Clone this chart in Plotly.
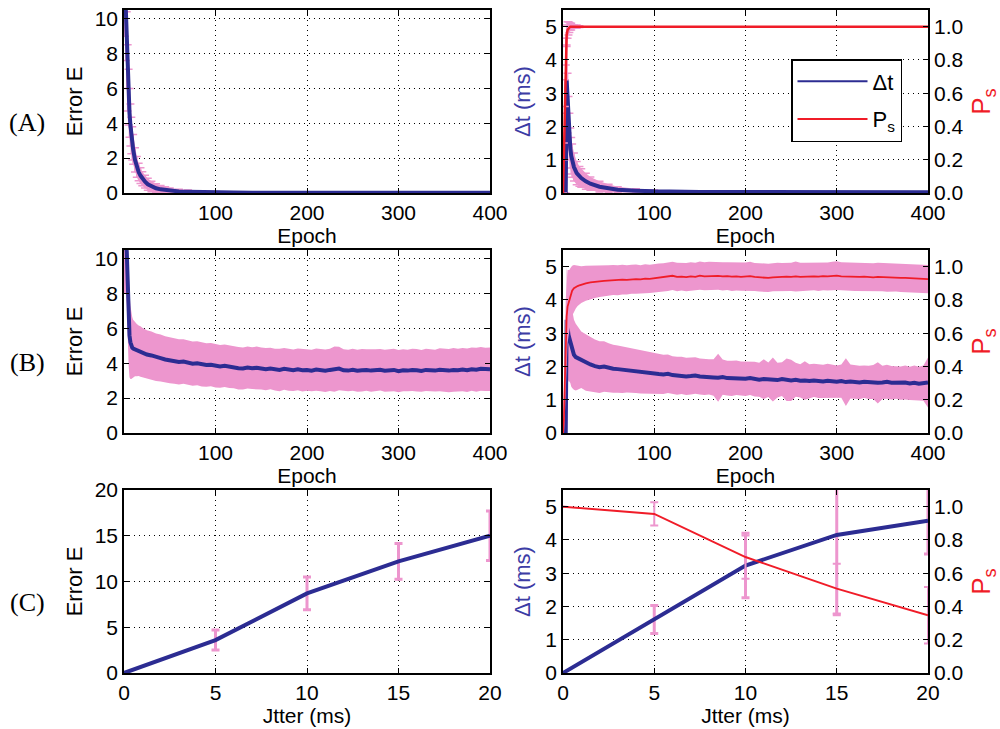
import plotly.graph_objects as go

# ---------------- data ----------------
# Row (A): noise-free training, per-epoch mean and std
A_epoch = [1, 2, 3, 4, 5, 6, 7, 8, 9, 10, 12, 14, 16, 18, 20, 23, 26, 30, 35, 40,
           45, 50, 60, 70, 80, 90, 100, 120, 140, 160, 200, 250, 300, 350, 400]
A_err_E = [12.0, 10.2, 8.2, 6.6, 5.5, 4.6, 3.9, 3.3, 2.85, 2.5, 1.9, 1.5, 1.2, 1.0, 0.82, 0.65, 0.5, 0.37, 0.27, 0.21,
           0.17, 0.13, 0.09, 0.07, 0.05, 0.04, 0.03, 0.025, 0.02, 0.015, 0.012, 0.01, 0.01, 0.01, 0.01]
A_err_E_sd = [3.0, 2.6, 2.2, 1.9, 1.6, 1.4, 1.2, 1.05, 0.95, 0.85, 0.7, 0.6, 0.5, 0.45, 0.4, 0.37, 0.34, 0.3, 0.26, 0.22,
              0.19, 0.16, 0.12, 0.1, 0.08, 0.06, 0.05, 0.04, 0.03, 0.02, 0.015, 0.01, 0.01, 0.01, 0.01]

A2_epoch = [0, 1, 2, 3, 4, 5, 6, 7, 8, 9, 10, 12, 15, 18, 20, 25, 30, 40, 50, 60,
            80, 100, 150, 200, 250, 300, 350, 400]
A_dt = [0, 0, 0, 0, 3.4, 2.7, 2.1, 1.7, 1.35, 1.12, 0.97, 0.78, 0.6, 0.5, 0.45, 0.35, 0.28, 0.19, 0.14, 0.1,
        0.07, 0.05, 0.03, 0.025, 0.02, 0.02, 0.02, 0.02]
A_dt_sd = [0, 0, 0, 0, 1.0, 0.9, 0.8, 0.7, 0.6, 0.55, 0.5, 0.42, 0.35, 0.3, 0.28, 0.24, 0.2, 0.16, 0.12, 0.09,
           0.06, 0.04, 0.02, 0.01, 0.01, 0.01, 0.01, 0.01]
A_ps = [0.0, 0.25, 0.6, 0.85, 0.95, 0.98, 0.99, 0.995, 1.0, 1.0, 1.0, 1.0, 1.0, 1.0, 1.0, 1.0, 1.0, 1.0, 1.0, 1.0,
        1.0, 1.0, 1.0, 1.0, 1.0, 1.0, 1.0, 1.0]
A_ps_sd = [0.0, 0.05, 0.08, 0.08, 0.06, 0.05, 0.04, 0.03, 0.02, 0.02, 0.01, 0.01, 0.01, 0.005, 0, 0, 0, 0, 0, 0,
           0, 0, 0, 0, 0, 0, 0, 0]

# Row (B): jittered training (epochs 0..20 dense, then every 5)
B_epoch = [0, 1, 2, 3, 4, 5, 6, 7, 8, 9, 10, 12, 14, 16, 18, 20] + list(range(25, 401, 5))
B_err_E = [11.0, 11.0, 11.0, 10.4, 8.2, 6.6, 5.6, 5.2, 5.0, 4.9, 4.85, 4.8, 4.76, 4.72, 4.68, 4.62,
           4.50, 4.45, 4.35, 4.30, 4.22, 4.18, 4.12, 4.08, 4.10, 4.03,
           3.98, 4.00, 3.93, 3.90, 3.92, 3.85, 3.82, 3.86, 3.80, 3.78,
           3.72, 3.70, 3.76, 3.72, 3.74, 3.70, 3.66, 3.70, 3.64, 3.62,
           3.68, 3.63, 3.60, 3.65, 3.60, 3.62, 3.58, 3.64, 3.60, 3.57,
           3.62, 3.66, 3.70, 3.60, 3.58, 3.63, 3.57, 3.60, 3.62, 3.58,
           3.60, 3.63, 3.57, 3.60, 3.62, 3.55, 3.60, 3.58, 3.62, 3.60,
           3.56, 3.62, 3.60, 3.58, 3.63, 3.60, 3.58, 3.62, 3.60, 3.64,
           3.60, 3.66, 3.63, 3.68, 3.65, 3.66]
B_err_E_sd = [3.0, 3.0, 3.0, 3.0, 2.9, 2.7, 2.4, 2.1, 1.9, 1.75, 1.65, 1.55, 1.5, 1.45, 1.45, 1.42,
              1.40, 1.38, 1.36, 1.35, 1.33, 1.32, 1.30, 1.30, 1.28, 1.28,
              1.27, 1.26, 1.26, 1.25, 1.24, 1.24, 1.23, 1.22, 1.22, 1.21,
              1.22, 1.20, 1.21, 1.20, 1.22, 1.20, 1.21, 1.19, 1.20, 1.22,
              1.20, 1.21, 1.19, 1.20, 1.22, 1.20, 1.19, 1.21, 1.20, 1.22,
              1.21, 1.30, 1.25, 1.20, 1.19, 1.21, 1.20, 1.22, 1.19, 1.21,
              1.20, 1.19, 1.21, 1.20, 1.22, 1.21, 1.20, 1.19, 1.21, 1.22,
              1.20, 1.21, 1.22, 1.20, 1.23, 1.22, 1.24, 1.25, 1.23, 1.24,
              1.25, 1.24, 1.26, 1.25, 1.24, 1.25]
B_dt = [0, 0, 0, 0, 3.4, 3.1, 2.95, 2.85, 2.75, 2.6, 2.5, 2.35, 2.28, 2.25, 2.22, 2.2,
        2.12, 2.06, 2.01, 1.98, 2.00, 1.96, 1.93, 1.92, 1.90, 1.90,
        1.87, 1.86, 1.84, 1.82, 1.80, 1.79, 1.77, 1.76, 1.78, 1.74,
        1.72, 1.73, 1.70, 1.71, 1.73, 1.70, 1.68, 1.69, 1.67, 1.66,
        1.68, 1.65, 1.64, 1.66, 1.64, 1.63, 1.65, 1.62, 1.60, 1.62,
        1.60, 1.61, 1.59, 1.62, 1.60, 1.58, 1.60, 1.57, 1.58, 1.56,
        1.58, 1.56, 1.55, 1.57, 1.55, 1.54, 1.56, 1.53, 1.55, 1.53,
        1.52, 1.54, 1.52, 1.53, 1.51, 1.52, 1.54, 1.51, 1.52, 1.50,
        1.52, 1.49, 1.51, 1.48, 1.50, 1.52]
B_dt_sd = [0, 0, 0, 0, 1.6, 1.5, 1.4, 1.3, 1.25, 1.2, 1.15, 1.05, 1.0, 0.95, 0.9, 0.85,
           0.85, 0.82, 0.80, 0.78, 0.76, 0.74, 0.72, 0.71, 0.70, 0.68,
           0.67, 0.66, 0.65, 0.63, 0.62, 0.60, 0.60, 0.59, 0.58, 0.57,
           0.57, 0.56, 0.56, 0.55, 0.55, 0.54, 0.54, 0.53, 0.55, 0.72,
           0.53, 0.52, 0.53, 0.52, 0.51, 0.52, 0.51, 0.52, 0.51, 0.60,
           0.52, 0.66, 0.52, 0.51, 0.64, 0.62, 0.51, 0.50, 0.58, 0.51,
           0.50, 0.51, 0.50, 0.51, 0.50, 0.49, 0.50, 0.72, 0.51, 0.50,
           0.50, 0.49, 0.50, 0.51, 0.62, 0.50, 0.51, 0.50, 0.49, 0.50,
           0.51, 0.50, 0.52, 0.51, 0.53, 0.75]
B_ps = [0.0, 0.08, 0.3, 0.55, 0.7, 0.76, 0.78, 0.8, 0.82, 0.84, 0.855, 0.87, 0.878, 0.883, 0.888, 0.892,
        0.900, 0.905, 0.910, 0.912, 0.915, 0.917, 0.920, 0.918, 0.922, 0.920,
        0.924, 0.925, 0.923, 0.928, 0.926, 0.930, 0.932, 0.935, 0.940, 0.945,
        0.938, 0.940, 0.937, 0.941, 0.939, 0.946, 0.942, 0.944, 0.943, 0.945,
        0.941, 0.943, 0.940, 0.942, 0.939, 0.940, 0.943, 0.938, 0.936, 0.935,
        0.932, 0.936, 0.938, 0.937, 0.940, 0.939, 0.941, 0.938, 0.940, 0.939,
        0.942, 0.940, 0.943, 0.941, 0.944, 0.946, 0.942, 0.940, 0.941, 0.939,
        0.938, 0.940, 0.937, 0.936, 0.939, 0.937, 0.935, 0.936, 0.934, 0.933,
        0.932, 0.930, 0.928, 0.929, 0.926, 0.925]
B_ps_sd = [0.0, 0.1, 0.2, 0.25, 0.25, 0.22, 0.2, 0.18, 0.17, 0.16, 0.15, 0.14, 0.13, 0.12, 0.115, 0.11,
           0.105, 0.100, 0.098, 0.095, 0.093, 0.092, 0.090, 0.090, 0.089, 0.088,
           0.087, 0.088, 0.086, 0.087, 0.085, 0.086, 0.087, 0.085, 0.086, 0.085,
           0.086, 0.084, 0.085, 0.086, 0.084, 0.085, 0.084, 0.086, 0.085, 0.084,
           0.085, 0.084, 0.086, 0.085, 0.084, 0.085, 0.086, 0.084, 0.085, 0.084,
           0.085, 0.084, 0.086, 0.085, 0.084, 0.085, 0.090, 0.086, 0.084, 0.085,
           0.084, 0.086, 0.085, 0.084, 0.085, 0.086, 0.084, 0.085, 0.086, 0.085,
           0.084, 0.085, 0.086, 0.085, 0.084, 0.085, 0.086, 0.085, 0.084, 0.085,
           0.086, 0.085, 0.084, 0.085, 0.086, 0.085]

# Row (C): final values vs jitter
C_jitter = [0, 5, 10, 15, 20]
C_err_E = [0.0, 3.6, 8.7, 12.2, 15.0]
C_err_E_sd = [0.0, 1.1, 1.8, 1.95, 2.7]
C_dt = [0.0, 1.61, 3.23, 4.15, 4.58]
C_dt_sd = [0.0, 0.42, 0.97, 2.4, 1.0]
C_ps = [1.0, 0.956, 0.697, 0.507, 0.347]
C_ps_sd = [0.0, 0.07, 0.13, 0.15, 0.17]

epoch_ticks = [100, 200, 300, 400]
jitter_ticks = [0, 5, 10, 15, 20]
E_ticks_AB = [0, 2, 4, 6, 8, 10]
E_ticks_C = [0, 5, 10, 15, 20]
dt_ticks = [0, 1, 2, 3, 4, 5]
ps_ticks = [0.0, 0.2, 0.4, 0.6, 0.8, 1.0]

# ---------------- style ----------------
PINK = 'rgb(237,150,206)'
BLUE = 'rgb(44,44,146)'
RED = 'rgb(240,28,40)'
LBLUE = 'rgb(60,60,165)'
FONT = 'Liberation Sans, Arial, sans-serif'
FS = 21

fig = go.Figure()


def band(x, m, e, xa, ya):
    up = [a + b for a, b in zip(m, e)]
    lo = [a - b for a, b in zip(m, e)]
    fig.add_trace(go.Scatter(x=x, y=up, mode='lines', line=dict(width=0, color=PINK),
                             xaxis=xa, yaxis=ya, showlegend=False, hoverinfo='skip'))
    fig.add_trace(go.Scatter(x=x, y=lo, mode='lines', line=dict(width=0, color=PINK),
                             fill='tonexty', fillcolor=PINK,
                             xaxis=xa, yaxis=ya, showlegend=False, hoverinfo='skip'))


def ebars(x, m, e, xa, ya, thick=1.5, w=4):
    fig.add_trace(go.Scatter(x=x, y=m, mode='markers', marker=dict(size=1, opacity=0),
                             error_y=dict(type='data', array=e, color=PINK, thickness=thick, width=w),
                             xaxis=xa, yaxis=ya, showlegend=False, hoverinfo='skip'))


def line(x, y, xa, ya, color, width):
    fig.add_trace(go.Scatter(x=x, y=y, mode='lines', line=dict(color=color, width=width),
                             xaxis=xa, yaxis=ya, showlegend=False))


# (A) left
band(A_epoch, A_err_E, A_err_E_sd, 'x', 'y')
ebars(A_epoch, A_err_E, A_err_E_sd, 'x', 'y')
line(A_epoch, A_err_E, 'x', 'y', BLUE, 4)
# (A) right
band(A2_epoch, A_dt, A_dt_sd, 'x2', 'y2')
ebars(A2_epoch, A_dt, A_dt_sd, 'x2', 'y2')
line(A2_epoch, A_dt, 'x2', 'y2', BLUE, 4)
band(A2_epoch, A_ps, A_ps_sd, 'x2', 'y3')
ebars(A2_epoch, A_ps, A_ps_sd, 'x2', 'y3')
line(A2_epoch, A_ps, 'x2', 'y3', RED, 2.5)
# legend entries
fig.add_trace(go.Scatter(x=[None], y=[None], mode='lines', line=dict(color=BLUE, width=2),
                         name='Δt', legendgroup='g1', xaxis='x2', yaxis='y2'))
fig.add_trace(go.Scatter(x=[None], y=[None], mode='lines', line=dict(color=RED, width=2),
                         name='P<sub>s</sub>', legendgroup='g2', xaxis='x2', yaxis='y2'))

# (B) left
band(B_epoch, B_err_E, B_err_E_sd, 'x3', 'y4')
line(B_epoch, B_err_E, 'x3', 'y4', BLUE, 4)
# (B) right
band(B_epoch, B_dt, B_dt_sd, 'x4', 'y5')
line(B_epoch, B_dt, 'x4', 'y5', BLUE, 4)
band(B_epoch, B_ps, B_ps_sd, 'x4', 'y6')
line(B_epoch, B_ps, 'x4', 'y6', RED, 1.8)

# (C) left
ebars(C_jitter, C_err_E, C_err_E_sd, 'x5', 'y7', thick=3, w=4)
line(C_jitter, C_err_E, 'x5', 'y7', BLUE, 4)
# (C) right
ebars(C_jitter, C_dt, C_dt_sd, 'x6', 'y8', thick=3, w=4)
line(C_jitter, C_dt, 'x6', 'y8', BLUE, 4)
ebars(C_jitter, C_ps, C_ps_sd, 'x6', 'y9', thick=2, w=4)
line(C_jitter, C_ps, 'x6', 'y9', RED, 2)

# ---------------- layout ----------------
W, H = 1000, 729
XL = [124 / W, 490 / W]
XR = [563 / W, 928 / W]


def ydom(top, bot):
    return [1 - bot / H, 1 - top / H]


YA = ydom(10, 193)
YB = ydom(250, 433)
YC = ydom(490, 673)

common = dict(showline=True, linecolor='black', linewidth=1.5, mirror='ticks',
              ticks='inside', ticklen=5, tickwidth=1, tickcolor='black',
              tickfont=dict(family=FONT, size=FS, color='black'),
              showgrid=True, gridcolor='black', gridwidth=1, griddash='1px,4px',
              zeroline=False, automargin=False, fixedrange=True)


def xax(dom, anchor, rng, tv, title):
    d = dict(common)
    d.update(domain=dom, anchor=anchor, range=rng, tickvals=tv,
             title=dict(text=title, font=dict(family=FONT, size=FS, color='black'), standoff=4))
    return d


def yax(dom, anchor, rng, tv, title, color='black', standoff=6):
    d = dict(common)
    d.update(domain=dom, anchor=anchor, range=rng, tickvals=tv,
             title=dict(text=title, font=dict(family=FONT, size=FS + 1, color=color), standoff=standoff))
    return d


def yright(over, anchor, title):
    return dict(overlaying=over, anchor=anchor, side='right', range=[0, 1.1], tickvals=ps_ticks,
                tickformat='.1f', showline=False, showgrid=False, zeroline=False,
                ticks='inside', ticklen=5, tickwidth=1, tickcolor='black', ticklabelstandoff=5,
                tickfont=dict(family=FONT, size=FS, color='black'), automargin=False, fixedrange=True,
                title=dict(text=title, font=dict(family=FONT, size=FS + 5, color=RED), standoff=9))


fig.update_layout(
    width=W, height=H,
    margin=dict(l=0, r=0, t=0, b=0, pad=0),
    paper_bgcolor='white', plot_bgcolor='white',
    xaxis=xax(XL, 'y', [0, 400], epoch_ticks, 'Epoch'),
    yaxis=yax(YA, 'x', [0, 10.5], E_ticks_AB, 'Error E'),
    xaxis2=xax(XR, 'y2', [0, 400], epoch_ticks, 'Epoch'),
    yaxis2=yax(YA, 'x2', [0, 5.5], dt_ticks, 'Δt (ms)', LBLUE, 9),
    yaxis3=yright('y2', 'x2', 'P<sub>s</sub>'),
    xaxis3=xax(XL, 'y4', [0, 400], epoch_ticks, 'Epoch'),
    yaxis4=yax(YB, 'x3', [0, 10.5], E_ticks_AB, 'Error E'),
    xaxis4=xax(XR, 'y5', [0, 400], epoch_ticks, 'Epoch'),
    yaxis5=yax(YB, 'x4', [0, 5.5], dt_ticks, 'Δt (ms)', LBLUE, 9),
    yaxis6=yright('y5', 'x4', 'P<sub>s</sub>'),
    xaxis5=xax(XL, 'y7', [0, 20], jitter_ticks, 'Jtter (ms)'),
    yaxis7=yax(YC, 'x5', [0, 20], E_ticks_C, 'Error E'),
    xaxis6=xax(XR, 'y8', [0, 20], jitter_ticks, 'Jtter (ms)'),
    yaxis8=yax(YC, 'x6', [0, 5.5], dt_ticks, 'Δt (ms)', LBLUE, 9),
    yaxis9=yright('y8', 'x6', 'P<sub>s</sub>'),
    showlegend=True,
    legend=dict(x=791 / W, y=1 - 59 / H, xanchor='left', yanchor='top',
                bordercolor='black', borderwidth=1.5, bgcolor='white',
                font=dict(family=FONT, size=22, color='black'),
                tracegroupgap=6, itemwidth=70),
    annotations=[
        dict(text=t, x=27 / W, y=1 - yy / H, xref='paper', yref='paper', showarrow=False,
             xanchor='center', yanchor='middle',
             font=dict(family='Liberation Serif, Times New Roman, serif', size=26, color='black'))
        for t, yy in [('(A)', 122), ('(B)', 362), ('(C)', 602)]
    ],
)

fig.write_html('out.html', config={'displayModeBar': False},
               post_script="document.body.style.margin='0px';")
